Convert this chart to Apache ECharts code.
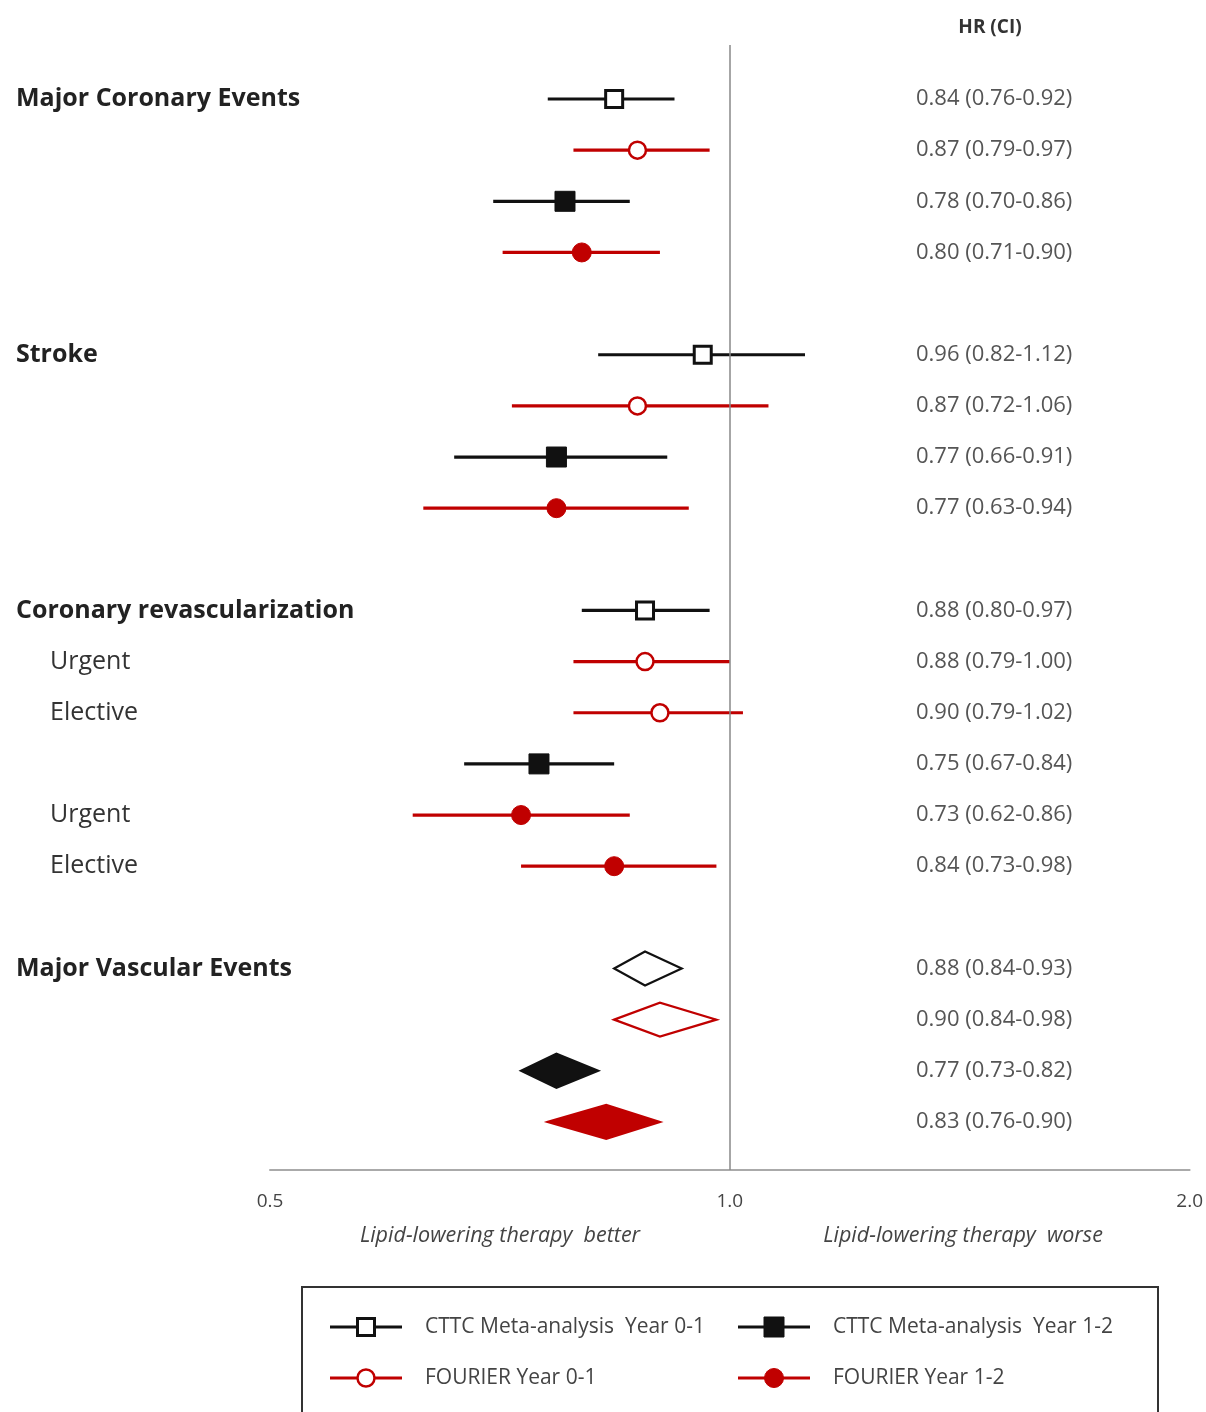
<!DOCTYPE html>
<html>
<head>
<meta charset="utf-8">
<script src="https://cdn.jsdelivr.net/npm/echarts@6/dist/echarts.min.js"></script>
<style>
  html, body { margin: 0; padding: 0; background: #fff; }
  #main { width: 1206px; height: 1412px; }
</style>
</head>
<body>
<div id="main"></div>
<script>
// row labels (one per row slot, blank rows are gaps)
var rowLabels = ['Major Coronary Events', '', '', '', '',
  'Stroke', '', '', '', '',
  'Coronary revascularization', 'Urgent', 'Elective', '', 'Urgent', 'Elective', '',
  'Major Vascular Events', '', '', ''];
var boldRows = [0, 5, 10, 17];

// which series each row belongs to (0 = CTTC 0-1, 1 = FOURIER 0-1, 2 = CTTC 1-2, 3 = FOURIER 1-2)
var rowSeries = [0, 1, 2, 3, null, 0, 1, 2, 3, null, 0, 1, 1, 2, 3, 3, null, 0, 1, 2, 3];
var hrValues = [0.84, 0.87, 0.78, 0.80, null, 0.96, 0.87, 0.77, 0.77, null,
  0.88, 0.88, 0.90, 0.75, 0.73, 0.84, null, 0.88, 0.90, 0.77, 0.83];
var ciLow = [0.76, 0.79, 0.70, 0.71, null, 0.82, 0.72, 0.66, 0.63, null,
  0.80, 0.79, 0.79, 0.67, 0.62, 0.73, null, 0.84, 0.84, 0.73, 0.76];
var ciHigh = [0.92, 0.97, 0.86, 0.90, null, 1.12, 1.06, 0.91, 0.94, null,
  0.97, 1.00, 1.02, 0.84, 0.86, 0.98, null, 0.93, 0.98, 0.82, 0.90];
var summaryRows = [17, 18, 19, 20];

var seriesNames = ['CTTC Meta-analysis  Year 0-1', 'FOURIER Year 0-1',
  'CTTC Meta-analysis  Year 1-2', 'FOURIER Year 1-2'];
var xTicks = [0.5, 1, 2];

var RED = '#c00000';
var BLACK = '#111';
var looks = [
  { color: BLACK, shape: 'square', filled: false },
  { color: RED, shape: 'circle', filled: false },
  { color: BLACK, shape: 'square', filled: true },
  { color: RED, shape: 'circle', filled: true }
];
var FONT = '"Open Sans", Lato, sans-serif';

var chart = echarts.init(document.getElementById('main'));

function markerShape(look, cx, cy) {
  if (look.shape === 'square') {
    var s = look.filled ? 20 : 17;
    return {
      type: 'rect',
      shape: { x: cx - s / 2, y: cy - s / 2, width: s, height: s },
      style: { fill: look.filled ? look.color : '#fff', stroke: look.color, lineWidth: look.filled ? 1 : 3 }
    };
  }
  return {
    type: 'circle',
    shape: { cx: cx, cy: cy, r: look.filled ? 9.5 : 8.5 },
    style: { fill: look.filled ? look.color : '#fff', stroke: look.color, lineWidth: look.filled ? 1 : 2.5 }
  };
}

function makeSeries(k) {
  var data = [];
  for (var i = 0; i < hrValues.length; i++) {
    if (rowSeries[i] === k) data.push([i, hrValues[i], ciLow[i], ciHigh[i]]);
  }
  var look = looks[k];
  return {
    type: 'custom',
    name: seriesNames[k],
    data: data,
    encode: { x: [1, 2, 3], y: 0 },
    silent: true,
    renderItem: function (params, api) {
      var row = api.value(0);
      var c = api.coord([api.value(1), row]);
      var l = api.coord([api.value(2), row]);
      var r = api.coord([api.value(3), row]);
      if (summaryRows.indexOf(row) >= 0) {
        var h = 17;
        return {
          type: 'polygon',
          shape: { points: [[l[0], c[1]], [c[0], c[1] - h], [r[0], c[1]], [c[0], c[1] + h]] },
          style: { fill: look.filled ? look.color : '#fff', stroke: look.color, lineWidth: 2.2 }
        };
      }
      return {
        type: 'group',
        children: [
          { type: 'line', shape: { x1: l[0], y1: c[1], x2: r[0], y2: c[1] },
            style: { stroke: look.color, lineWidth: 3.2 } },
          markerShape(look, c[0], c[1])
        ]
      };
    }
  };
}

// text columns: row names on the left, HR (CI) on the right
var textData = [];
for (var i = 0; i < rowLabels.length; i++) {
  var hrText = hrValues[i] == null ? '' :
    hrValues[i].toFixed(2) + ' (' + ciLow[i].toFixed(2) + '-' + ciHigh[i].toFixed(2) + ')';
  textData.push([i, 1, rowLabels[i], hrText]);
}

var series = [0, 1, 2, 3].map(makeSeries);
series.push({
  type: 'custom',
  name: 'text',
  data: textData,
  encode: { x: 1, y: 0 },
  silent: true,
  renderItem: function (params, api) {
    var row = api.value(0);
    var y = api.coord([1, row])[1];
    var i = params.dataIndex;
    var bold = boldRows.indexOf(row) >= 0;
    var indent = (rowLabels[i] && !bold) ? 50 : 16;
    return {
      type: 'group',
      children: [
        { type: 'text', style: { x: indent, y: y, text: rowLabels[i], verticalAlign: 'middle',
            font: (bold ? 'bold 25px ' : '25px ') + FONT, fill: bold ? '#222' : '#333' } },
        { type: 'text', style: { x: 916, y: y, text: textData[i][3], verticalAlign: 'middle',
            font: '22px ' + FONT, fill: '#555' } }
      ]
    };
  }
});
series[0].markLine = {
  silent: true,
  symbol: 'none',
  label: { show: false },
  lineStyle: { color: '#888', width: 1.5, type: 'solid' },
  data: [{ xAxis: 1 }]
};

// legend drawn as graphic items
var legendPos = [[330, 1327], [738, 1327], [330, 1378], [738, 1378]];
var legendOrder = [0, 2, 1, 3];
var graphics = [
  { type: 'rect', shape: { x: 302, y: 1287, width: 856, height: 200 },
    style: { fill: 'none', stroke: '#333', lineWidth: 2 } },
  { type: 'text', style: { x: 990, y: 28, text: 'HR (CI)', align: 'center', verticalAlign: 'middle',
      font: 'bold 19px ' + FONT, fill: '#333' } },
  { type: 'text', style: { x: 500, y: 1236, text: 'Lipid-lowering therapy  better', align: 'center',
      verticalAlign: 'middle', font: 'italic 21.5px ' + FONT, fill: '#444' } },
  { type: 'text', style: { x: 963, y: 1236, text: 'Lipid-lowering therapy  worse', align: 'center',
      verticalAlign: 'middle', font: 'italic 21.5px ' + FONT, fill: '#444' } }
];
legendOrder.forEach(function (k, j) {
  var p = legendPos[j];
  var look = looks[k];
  graphics.push({ type: 'line', shape: { x1: p[0], y1: p[1], x2: p[0] + 72, y2: p[1] },
    style: { stroke: look.color, lineWidth: 3.2 } });
  graphics.push(markerShape(look, p[0] + 36, p[1]));
  graphics.push({ type: 'text', style: { x: p[0] + 95, y: p[1], text: seriesNames[k], verticalAlign: 'middle',
    font: '21px ' + FONT, fill: '#444' } });
});

var option = {
  animation: false,
  backgroundColor: '#fff',
  grid: { left: 270, right: 12, top: 45, bottom: 242 },
  xAxis: {
    type: 'log',
    logBase: 2,
    min: xTicks[0],
    max: xTicks[xTicks.length - 1],
    axisLine: { onZero: false, lineStyle: { color: '#aaa', width: 2 } },
    axisTick: { show: false },
    splitLine: { show: false },
    axisLabel: {
      margin: 22,
      fontSize: 19,
      fontFamily: FONT,
      color: '#444',
      formatter: function (v) { return Number(v).toFixed(1); }
    }
  },
  yAxis: {
    type: 'value',
    inverse: true,
    min: -1.056,
    max: 20.94,
    show: false
  },
  graphic: graphics,
  series: series
};

chart.setOption(option);
</script>
</body>
</html>
